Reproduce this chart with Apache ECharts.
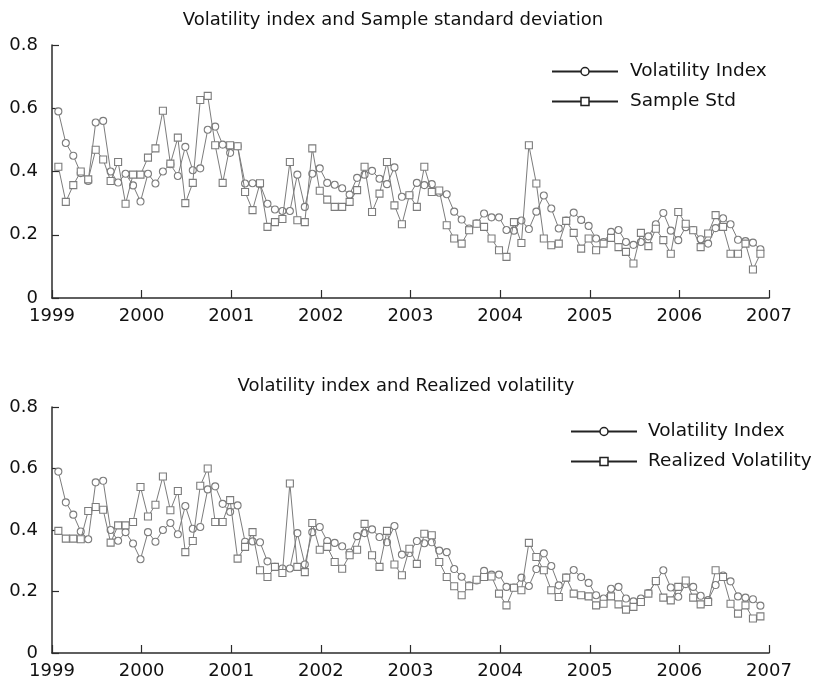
<!DOCTYPE html>
<html><head><meta charset="utf-8">
<script src="https://cdn.jsdelivr.net/npm/echarts@6/dist/echarts.min.js"></script>
<style>html,body{margin:0;padding:0;background:#fff}#c{width:817px;height:686px}</style>
</head><body><div id="c"></div>
<script>
// Monthly observations, Jan 1999 .. Nov 2006
const startYear = 1999;
const volatilityIndex = [
  0.59,0.49,0.45,0.395,0.37,0.555,0.56,0.40,0.365,0.393,0.356,0.305,
  0.393,0.362,0.40,0.423,0.386,0.478,0.404,0.41,0.532,0.542,0.485,0.459,
  0.48,0.362,0.363,0.36,0.298,0.28,0.275,0.275,0.39,0.288,0.393,0.41,
  0.364,0.358,0.347,0.327,0.38,0.39,0.402,0.377,0.36,0.413,0.32,0.325,
  0.364,0.357,0.36,0.333,0.328,0.273,0.248,0.22,0.236,0.267,0.255,0.255,
  0.215,0.213,0.245,0.218,0.273,0.324,0.283,0.22,0.245,0.27,0.247,0.228,
  0.188,0.177,0.209,0.215,0.177,0.168,0.177,0.195,0.233,0.269,0.213,0.183,
  0.224,0.215,0.186,0.172,0.221,0.252,0.233,0.184,0.18,0.175,0.154
];
const sampleStd = [
  0.415,0.304,0.357,0.40,0.375,0.469,0.438,0.37,0.43,0.298,0.39,0.39,
  0.444,0.473,0.592,0.425,0.507,0.30,0.364,0.626,0.639,0.483,0.364,0.483,
  0.48,0.335,0.278,0.363,0.225,0.24,0.25,0.43,0.246,0.24,0.473,0.339,
  0.311,0.288,0.288,0.304,0.341,0.415,0.272,0.33,0.43,0.293,0.233,0.325,
  0.288,0.415,0.335,0.34,0.23,0.188,0.172,0.214,0.235,0.225,0.188,0.151,
  0.13,0.24,0.174,0.483,0.362,0.188,0.167,0.172,0.244,0.206,0.156,0.188,
  0.151,0.172,0.19,0.161,0.146,0.109,0.206,0.164,0.219,0.183,0.14,0.272,
  0.235,0.214,0.161,0.204,0.262,0.225,0.14,0.14,0.172,0.09,0.14
];
const realizedVol = [
  0.397,0.372,0.372,0.37,0.462,0.475,0.466,0.359,0.415,0.415,0.426,0.54,
  0.444,0.482,0.574,0.464,0.527,0.328,0.364,0.544,0.60,0.426,0.426,0.497,
  0.307,0.345,0.393,0.269,0.247,0.28,0.26,0.551,0.28,0.263,0.423,0.336,
  0.345,0.296,0.274,0.318,0.336,0.42,0.318,0.28,0.397,0.288,0.253,0.339,
  0.29,0.388,0.383,0.296,0.247,0.217,0.188,0.217,0.238,0.247,0.249,0.193,
  0.155,0.212,0.204,0.358,0.312,0.269,0.204,0.182,0.245,0.193,0.188,0.184,
  0.155,0.16,0.184,0.158,0.141,0.15,0.166,0.193,0.234,0.18,0.171,0.215,
  0.236,0.18,0.158,0.166,0.269,0.247,0.16,0.128,0.155,0.112,0.119
];
const xMin = 1999, xMax = 2007, xStep = 1;
const yMin = 0, yMax = 0.8, yStep = 0.2;
const titles = ['Volatility index and Sample standard deviation', 'Volatility index and Realized volatility'];
const names = ['Volatility Index', 'Sample Std', 'Realized Volatility'];

const monthPos = k => startYear + (k + 0.85) / 12;
const pairs = arr => arr.map((v, k) => [monthPos(k), v]);

const FONT = 'DejaVu Sans';
const AX = '#2b2b2b';
const SER = '#7c7c7c';

function xAxis(gi){
  return {type:'value', gridIndex:gi, min:xMin, max:xMax, interval:xStep,
    axisLine:{show:true, onZero:false, lineStyle:{color:AX, width:1.5}},
    axisTick:{show:true, inside:true, length:8, lineStyle:{color:AX, width:1.2}},
    axisLabel:{color:'#111', fontFamily:FONT, fontSize:18, margin:9, formatter:v=>String(v)},
    splitLine:{show:false}};
}
function yAxis(gi){
  return {type:'value', gridIndex:gi, min:yMin, max:yMax, interval:yStep,
    axisLine:{show:true, lineStyle:{color:AX, width:1.5}},
    axisTick:{show:true, inside:true, length:7, lineStyle:{color:AX, width:1.2}},
    axisLabel:{color:'#111', fontFamily:FONT, fontSize:18, margin:14,
      formatter:v=> v===0 ? '0' : v.toFixed(1)},
    splitLine:{show:false}};
}
function line(name, data, sym, gi){
  return {type:'line', name, xAxisIndex:gi, yAxisIndex:gi, data:pairs(data),
    symbol:sym, symbolSize:7, showAllSymbol:true,
    lineStyle:{color:SER, width:1},
    itemStyle:{color:'#fff', borderColor:SER, borderWidth:1.1},
    emphasis:{disabled:true}, z: sym==='rect'?3:2};
}
function legendItem(name){
  return {name,
    itemStyle:{color:'#fff', borderColor:'#222', borderWidth:1.5},
    lineStyle:{color:'#222', width:2}};
}
const chart = echarts.init(document.getElementById('c'), null, {renderer:'canvas'});
chart.setOption({
  animation:false,
  backgroundColor:'#fff',
  title:[
    {text:titles[0], left:388, top:6, textAlign:'center',
      textStyle:{fontFamily:FONT, fontSize:18, fontWeight:'normal', color:'#111'}},
    {text:titles[1], left:401, top:372, textAlign:'center',
      textStyle:{fontFamily:FONT, fontSize:18, fontWeight:'normal', color:'#111'}}
  ],
  legend:[
    {orient:'vertical', left:546, top:57, itemWidth:66, itemHeight:10, itemGap:11,
      textStyle:{fontFamily:FONT, fontSize:18.5, color:'#111', padding:[0,0,0,7]},
      data:[legendItem(names[0]), legendItem(names[1])]},
    {orient:'vertical', left:565, top:417, itemWidth:66, itemHeight:10, itemGap:11,
      textStyle:{fontFamily:FONT, fontSize:18.5, color:'#111', padding:[0,0,0,6]},
      data:[legendItem(names[0]), legendItem(names[2])]}
  ],
  grid:[
    {left:52, right:48, top:45, height:253},
    {left:52, right:48, top:407, height:246}
  ],
  xAxis:[xAxis(0), xAxis(1)],
  yAxis:[yAxis(0), yAxis(1)],
  series:[
    line(names[0], volatilityIndex, 'circle', 0),
    line(names[1], sampleStd, 'rect', 0),
    line(names[0], volatilityIndex, 'circle', 1),
    line(names[2], realizedVol, 'rect', 1)
  ]
});
</script></body></html>
